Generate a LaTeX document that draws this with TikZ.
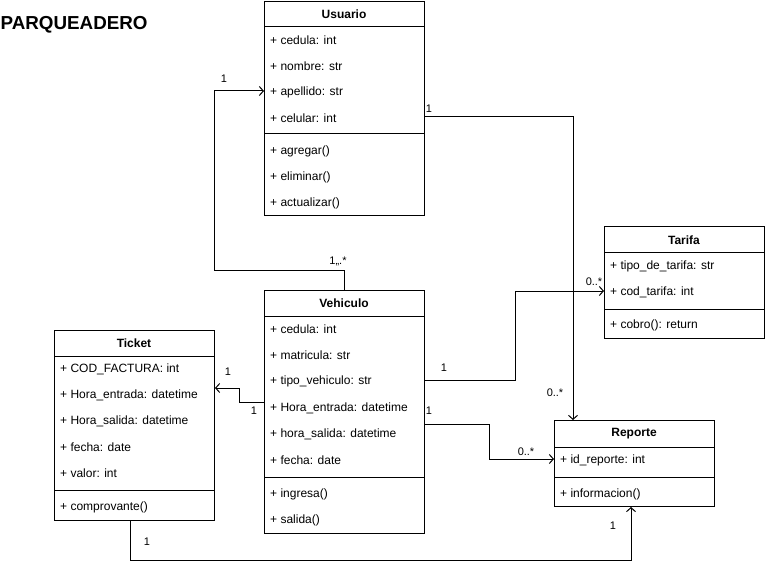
\documentclass[tikz,border=0pt]{standalone}
\usepackage{fontspec}
\setmainfont{Liberation Sans}
\usetikzlibrary{arrows.meta}
\begin{document}
\begin{tikzpicture}[x=1pt,y=-1pt,
  cls/.style={draw, line width=1pt, anchor=north west, inner sep=0, minimum width=160pt},
  ttl/.style={font=\bfseries\fontsize{12}{14}\selectfont, inner sep=0},
  attr/.style={font=\fontsize{12}{14}\selectfont, anchor=west, inner sep=0},
  sep/.style={line width=1pt},
  assoc/.style={line width=1pt, -{Straight Barb[length=4pt,width=9pt]}},
  mult/.style={font=\fontsize{11}{13}\selectfont, inner sep=0},
]
\useasboundingbox (0,0) rectangle (765,569);

\node[font=\bfseries\fontsize{18.8}{21}\selectfont, anchor=west, inner sep=0] (title) at (0.5,24.5) {PARQUEADERO};

% Usuario
\node[cls, minimum height=214pt] (usuario) at (264,1) {};
\node[ttl] (usuarioT) at (344,14) {Usuario};
\draw[sep] (264,27) -- (424,27);
\node[attr] (u1) at (270,40) {+ cedula: int};
\node[attr] (u2) at (270,66) {+ nombre: str};
\node[attr] (u3) at (270,92) {+ apellido: str};
\node[attr] (u4) at (270,118) {+ celular: int};
\draw[sep] (264,134) -- (424,134);
\node[attr] (u5) at (270,151) {+ agregar()};
\node[attr] (u6) at (270,177) {+ eliminar()};
\node[attr] (u7) at (270,203) {+ actualizar()};

% Vehiculo
\node[cls, minimum height=243pt] (vehiculo) at (264,290) {};
\node[ttl] (vehiculoT) at (344,303) {Vehiculo};
\draw[sep] (264,316) -- (424,316);
\node[attr] (v1) at (270,329) {+ cedula: int};
\node[attr] (v2) at (270,355) {+ matricula: str};
\node[attr] (v3) at (270,381) {+ tipo\_vehiculo: str};
\node[attr] (v4) at (270,408) {+ Hora\_entrada: datetime};
\node[attr] (v5) at (270,434) {+ hora\_salida: datetime};
\node[attr] (v6) at (270,460) {+ fecha: date};
\draw[sep] (264,477) -- (424,477);
\node[attr] (v7) at (270,494) {+ ingresa()};
\node[attr] (v8) at (270,520) {+ salida()};

% Ticket
\node[cls, minimum height=190pt] (ticket) at (54,330) {};
\node[ttl] (ticketT) at (134,343) {Ticket};
\draw[sep] (54,356) -- (214,356);
\node[attr] (t1) at (60,369) {+ COD\_FACTURA: int};
\node[attr] (t2) at (60,395) {+ Hora\_entrada: datetime};
\node[attr] (t3) at (60,421) {+ Hora\_salida: datetime};
\node[attr] (t4) at (60,447) {+ fecha: date};
\node[attr] (t5) at (60,473) {+ valor: int};
\draw[sep] (54,490) -- (214,490);
\node[attr] (t6) at (60,507) {+ comprovante()};

% Tarifa
\node[cls, minimum height=112pt] (tarifa) at (604,226) {};
\node[ttl] (tarifaT) at (684,240) {Tarifa};
\draw[sep] (604,253) -- (764,253);
\node[attr] (f1) at (610,266) {+ tipo\_de\_tarifa: str};
\node[attr] (f2) at (610,292) {+ cod\_tarifa: int};
\draw[sep] (604,309) -- (764,309);
\node[attr] (f3) at (610,325) {+ cobro(): return};

% Reporte
\node[cls, minimum height=86pt] (reporte) at (554,420) {};
\node[ttl] (reporteT) at (634,434) {Reporte};
\draw[sep] (554,447) -- (714,447);
\node[attr] (r1) at (560,460) {+ id\_reporte: int};
\draw[sep] (554,477) -- (714,477);
\node[attr] (r2) at (560,494) {+ informacion()};

% Connectors
\draw[assoc] (vehiculo.north) |- (214,270) |- (usuario.west |- 0,91);
\node[mult] at (224,79) {1};
\node[mult] at (338,261) {1,,.*};

\draw[assoc] (usuario.east |- 0,117) -| (reporte.north -| 573,0);
\node[mult] at (429,109) {1};
\node[mult] at (555,393) {0..*};

\draw[assoc] (vehiculo.east |- 0,380) -| (515,291) -- (tarifa.west |- 0,291);
\node[mult] at (444,368) {1};
\node[mult] at (594,282) {0..*};

\draw[assoc] (vehiculo.east |- 0,424) -| (489,459) -- (reporte.west |- 0,459);
\node[mult] at (429,411) {1};
\node[mult] at (526,452) {0..*};

\draw[assoc] (vehiculo.west |- 0,402) -| (239,388) -- (ticket.east |- 0,388);
\node[mult] at (228,372) {1};
\node[mult] at (254,411) {1};

\draw[assoc] (ticket.south -| 130,0) |- (631,560) -- (reporte.south -| 631,0);
\node[mult] at (147,542) {1};
\node[mult] at (613,526) {1};
\end{tikzpicture}
\end{document}
